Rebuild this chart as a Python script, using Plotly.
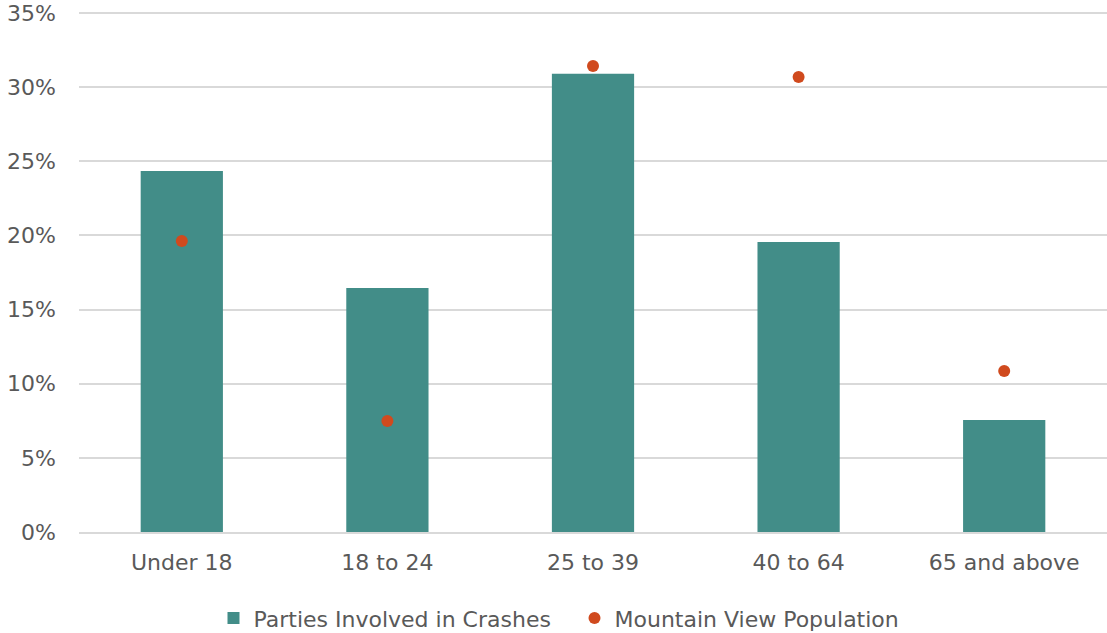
import plotly.graph_objects as go

categories = ["Under 18", "18 to 24", "25 to 39", "40 to 64", "65 and above"]
crash_share = [0.2435, 0.1645, 0.3090, 0.1955, 0.0755]
population_share = [0.1962, 0.0748, 0.3142, 0.3068, 0.1086]

fig = go.Figure()

fig.add_trace(go.Bar(
    x=categories, y=crash_share,
    name="Parties Involved in Crashes",
    marker=dict(color="#428D88", line=dict(width=0)),
))

fig.add_trace(go.Scatter(
    x=categories, y=population_share,
    name="Mountain View Population",
    mode="markers",
    marker=dict(color="#D04A1E", size=12),
))

fig.update_layout(
    width=1107, height=633,
    plot_bgcolor="white", paper_bgcolor="white",
    font=dict(family="DejaVu Sans, sans-serif", size=22, color="#595959"),
    margin=dict(l=79, r=0, t=10, b=101, autoexpand=False),
    bargap=0.6,
    showlegend=True,
    legend=dict(orientation="h", x=0.482, xanchor="center", y=-0.125, yanchor="top",
                font=dict(size=22), itemsizing="constant", entrywidth=316),
    xaxis=dict(showline=True, linecolor="#D9D9D9", linewidth=2, ticks="",
               automargin=False, ticklabelstandoff=10),
    # range a hair above 35% so the top gridline is still drawn
    yaxis=dict(range=[0, 0.352], dtick=0.05, tickformat=".0%",
               gridcolor="#D9D9D9", gridwidth=2, zeroline=False, ticks="",
               ticklabelstandoff=22, automargin=False, ticklabeloverflow="allow"),
)

# drop the default page margin so the figure sits at the window corner
fig.write_html("out.html", config={"displayModeBar": False},
               post_script="document.body.style.margin='0';")
